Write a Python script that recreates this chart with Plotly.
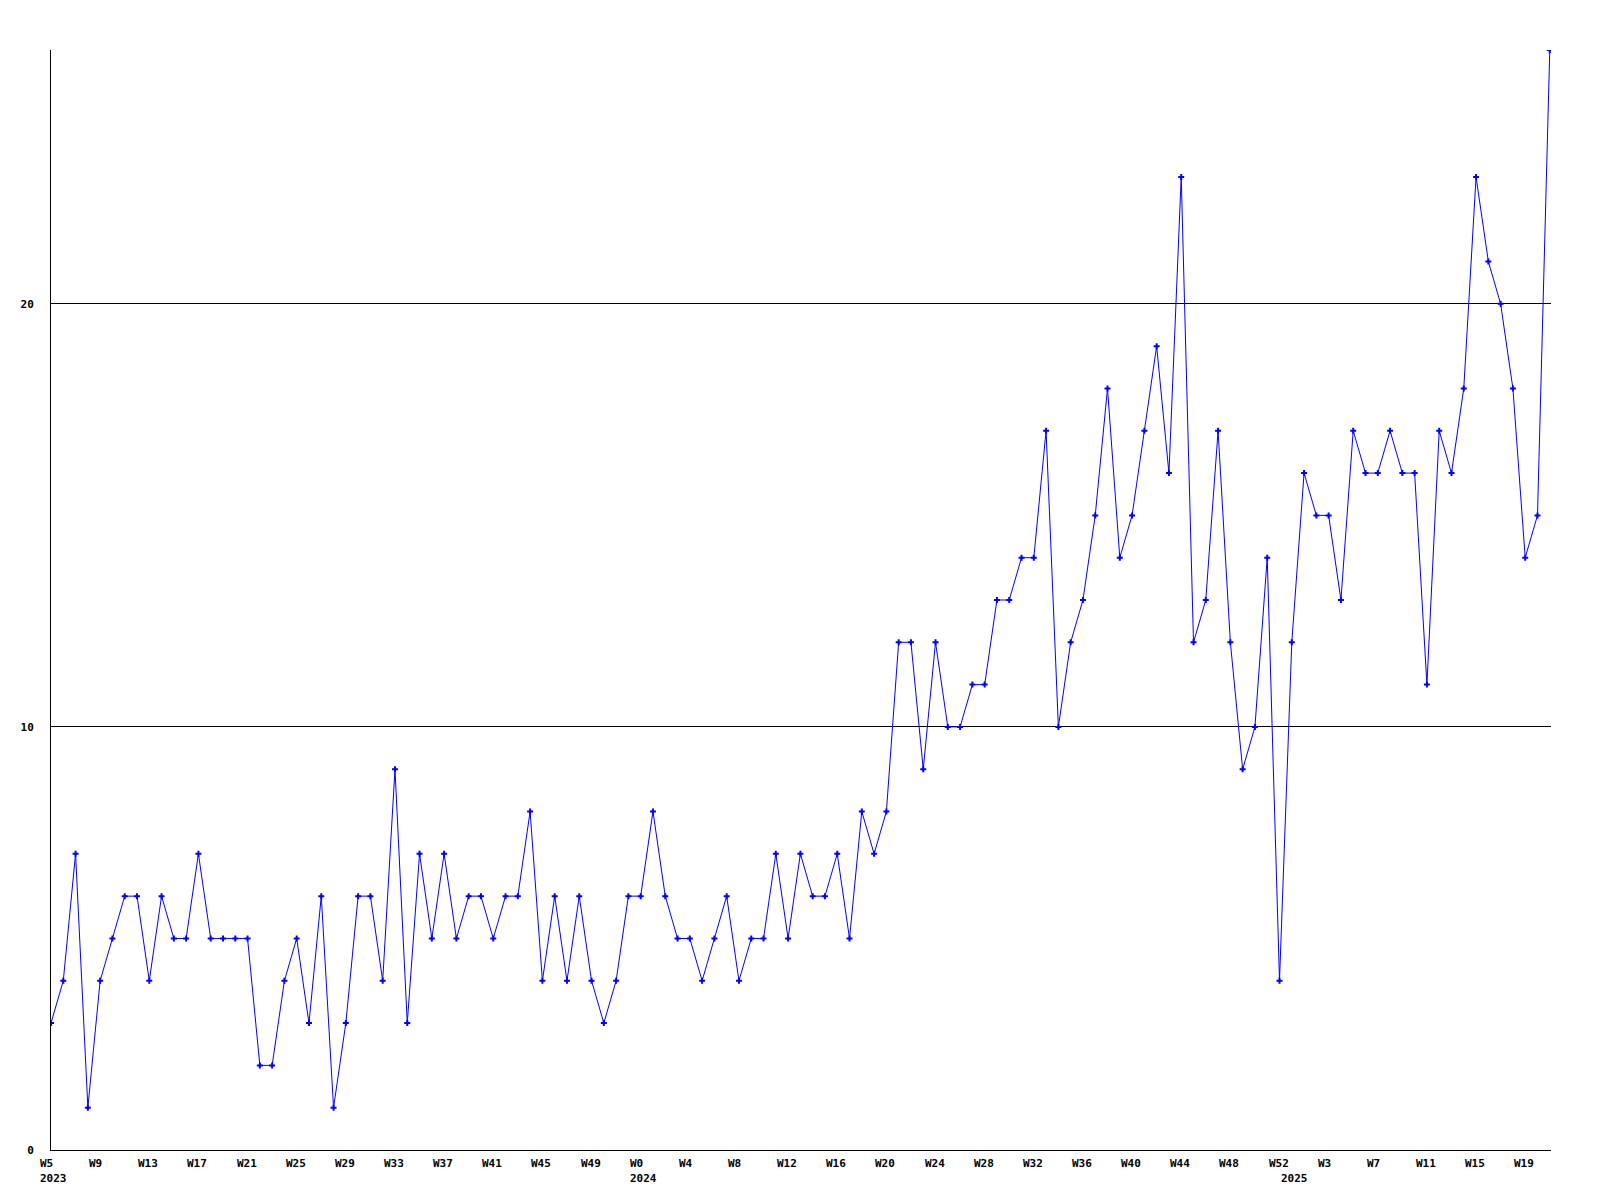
import plotly.graph_objects as go

values = [3, 4, 7, 1, 4, 5, 6, 6, 4, 6, 5, 5, 7, 5, 5, 5, 5, 2, 2, 4,
          5, 3, 6, 1, 3, 6, 6, 4, 9, 3, 7, 5, 7, 5, 6, 6, 5, 6, 6, 8,
          4, 6, 4, 6, 4, 3, 4, 6, 6, 8, 6, 5, 5, 4, 5, 6, 4, 5, 5, 7,
          5, 7, 6, 6, 7, 5, 8, 7, 8, 12, 12, 9, 12, 10, 10, 11, 11, 13, 13, 14,
          14, 17, 10, 12, 13, 15, 18, 14, 15, 17, 19, 16, 23, 12, 13, 17, 12, 9, 10, 14,
          4, 12, 16, 15, 15, 13, 17, 16, 16, 17, 16, 16, 11, 17, 16, 18, 23, 21, 20, 18,
          14, 15, 26]

tick_idx = [0, 4, 8, 12, 16, 20, 24, 28, 32, 36, 40, 44,
            48, 52, 56, 60, 64, 68, 72, 76, 80, 84, 88, 92, 96, 100,
            104, 108, 112, 116, 120]
tick_text = ["W5", "W9", "W13", "W17", "W21", "W25", "W29", "W33", "W37", "W41", "W45", "W49",
             "W0", "W4", "W8", "W12", "W16", "W20", "W24", "W28", "W32", "W36", "W40", "W44", "W48", "W52",
             "W3", "W7", "W11", "W15", "W19"]
year_idx = [0, 48, 101]
year_text = ["2023", "2024", "2025"]

y_ticks = [0, 10, 20]

x = list(range(len(values)))
FONT = dict(family="DejaVu Sans Mono", size=11, color="black", weight="bold")

fig = go.Figure()
fig.add_trace(go.Scatter(
    x=x, y=values, mode="lines+markers",
    line=dict(color="#0000ff", width=1),
    marker=dict(symbol="cross", size=5, color="#0000ff"),
    hoverinfo="skip", showlegend=False,
))

annotations = []
for i, t in zip(tick_idx, tick_text):
    annotations.append(dict(x=i, xref="x", y=0, yref="paper", text=t, showarrow=False,
                            xanchor="left", yanchor="top", xshift=-13, yshift=-5, font=FONT))
for i, t in zip(year_idx, year_text):
    annotations.append(dict(x=i, xref="x", y=0, yref="paper", text=t, showarrow=False,
                            xanchor="left", yanchor="top", xshift=-13, yshift=-20, font=FONT))

# page body has an 8px margin, so margins are offset to place the plot area
fig.update_layout(
    width=1600, height=1200,
    margin=dict(l=43, r=57, t=42, b=58),
    paper_bgcolor="white", plot_bgcolor="white",
    annotations=annotations,
    xaxis=dict(range=[0, 122.1], showgrid=False, zeroline=False, showticklabels=False,
               ticks="", showline=True, linecolor="black", linewidth=1),
    yaxis=dict(range=[0, 26], tickvals=y_ticks, ticktext=[str(v) for v in y_ticks],
               showgrid=True, gridcolor="black", gridwidth=1, zeroline=False,
               showline=True, linecolor="black", linewidth=1, ticks="",
               tickfont=FONT, ticklabelstandoff=14),
)

fig.write_html("out.html")
